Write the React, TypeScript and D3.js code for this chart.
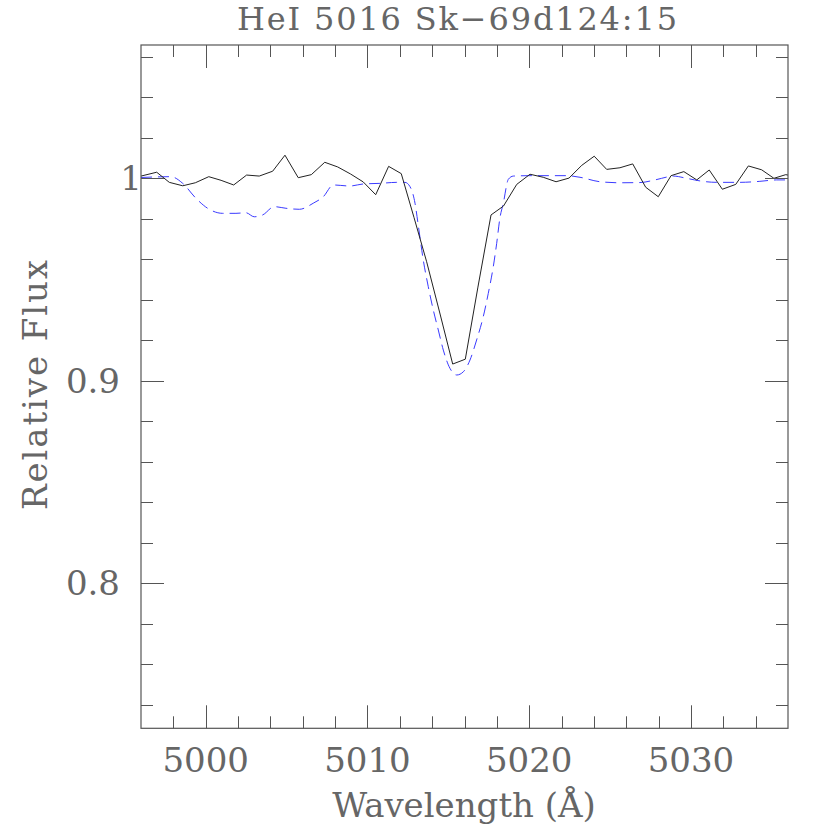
import React, { useEffect, useRef } from "react"
import * as d3 from "d3"

const W = 830
const H = 830
const PLOT = { left: 141, right: 788, top: 45, bottom: 728.3 }

const X_DOMAIN: [number, number] = [4996, 5036]
const Y_DOMAIN: [number, number] = [0.7284, 1.0657]

const X_MAJOR = [5000, 5010, 5020, 5030]
const Y_MAJOR = [0.8, 0.9, 1.0]
const Y_MAJOR_LABELS = ["0.8", "0.9", "1"]

// observed spectrum (black, solid)
const obsWave = [
  4995.2, 4996.0, 4996.97, 4997.75, 4998.58, 4999.36, 5000.19, 5000.95, 5001.73, 5002.53,
  5003.31, 5004.14, 5004.9, 5005.72, 5006.53, 5007.36, 5008.16, 5008.96, 5009.74, 5010.51,
  5011.31, 5012.09, 5012.88, 5013.66, 5014.49, 5015.27, 5016.05, 5016.83, 5017.64, 5018.41,
  5019.23, 5020.05, 5020.87, 5021.66, 5022.46, 5023.25, 5024.02, 5024.79, 5025.61, 5026.4,
  5027.2, 5027.98, 5028.77, 5029.56, 5030.36, 5031.13, 5031.94, 5032.77, 5033.55, 5034.37,
  5035.13, 5035.86, 5036.65,
]
const obsFlux = [
  0.9995, 1.001, 1.0029, 0.9979, 0.9962, 0.9977, 1.0007, 0.9989, 0.9966, 1.0015,
  1.001, 1.0034, 1.0113, 1.0002, 1.0017, 1.0078, 1.0055, 1.002, 0.9981, 0.9918,
  1.0058, 1.0022, 0.9805, 0.9587, 0.9329, 0.9082, 0.9106, 0.9462, 0.9818, 0.9862,
  0.9969, 1.0019, 1.0004, 0.9982, 1.0, 1.0063, 1.0108, 1.0043, 1.0051, 1.007,
  0.9955, 0.9908, 1.0012, 1.0032, 0.9991, 1.004, 0.9945, 0.9969, 1.006, 1.0041,
  0.9999, 1.0017, 1.0005,
]

// model fit (blue, dashed)
const modelWave = [
  4996.0, 4997.85, 4998.58, 4999.4, 5000.12, 5001.05, 5001.87, 5002.49, 5003.0, 5003.52,
  5004.24, 5004.96, 5005.79, 5006.65, 5007.27, 5007.89, 5008.92, 5009.74, 5010.77, 5011.81,
  5012.32, 5012.63, 5012.94, 5013.14, 5013.45, 5013.76, 5014.07, 5014.38, 5014.69, 5015.1,
  5015.52, 5015.93, 5016.34, 5016.75, 5017.16, 5017.47, 5017.78, 5017.99, 5018.19, 5018.4,
  5018.71, 5019.02, 5020.05, 5022.32, 5023.14, 5024.38, 5025.61, 5026.85, 5027.57, 5028.19,
  5028.91, 5029.73, 5030.56, 5031.59, 5033.03, 5034.26, 5035.3, 5035.86,
]
const modelFlux = [
  1.0003, 1.0007, 0.9974, 0.99, 0.9851, 0.9826, 0.9826, 0.9829, 0.9809, 0.9818,
  0.9859, 0.9851, 0.9846, 0.9876, 0.9908, 0.9966, 0.9961, 0.9971, 0.9974, 0.9979,
  0.9979, 0.9958, 0.9876, 0.9768, 0.9596, 0.9464, 0.9349, 0.925, 0.9151, 0.9061,
  0.9028, 0.9044, 0.9102, 0.9201, 0.9316, 0.9431, 0.9563, 0.9678, 0.9803, 0.9876,
  0.9994, 1.001, 1.0012, 1.0012, 1.0004, 0.9982, 0.9977, 0.9978, 0.9987, 0.9999,
  1.001, 0.9999, 0.9986, 0.9979, 0.9979, 0.9984, 0.9991, 0.9991,
]

const TITLE = "HeI 5016 Sk\u221269d124:15"
const X_LABEL = "Wavelength (\u00c5)"
const Y_LABEL = "Relative Flux"

const FONT = "'DejaVu Serif', serif"
const INK = "#555"
const TEXT_INK = "#666"

export default function App() {
  const svgRef = useRef<SVGSVGElement | null>(null)

  useEffect(() => {
    const svg = d3.select(svgRef.current)
    svg.selectAll("*").remove()

    const x = d3.scaleLinear().domain(X_DOMAIN).range([PLOT.left, PLOT.right])
    const y = d3.scaleLinear().domain(Y_DOMAIN).range([PLOT.bottom, PLOT.top])

    svg
      .append("defs")
      .append("clipPath")
      .attr("id", "plot-clip")
      .append("rect")
      .attr("x", PLOT.left)
      .attr("y", PLOT.top)
      .attr("width", PLOT.right - PLOT.left)
      .attr("height", PLOT.bottom - PLOT.top)

    const plot = svg.append("g").attr("clip-path", "url(#plot-clip)")

    const line = d3
      .line<[number, number]>()
      .x(d => x(d[0]))
      .y(d => y(d[1]))

    plot
      .append("path")
      .datum(d3.zip(modelWave, modelFlux) as [number, number][])
      .attr("d", line.curve(d3.curveMonotoneX))
      .attr("fill", "none")
      .attr("stroke", "#3a3aff")
      .attr("stroke-width", 1)
      .attr("stroke-dasharray", "11,6")

    plot
      .append("path")
      .datum(d3.zip(obsWave, obsFlux) as [number, number][])
      .attr("d", line.curve(d3.curveLinear))
      .attr("fill", "none")
      .attr("stroke", "#222")
      .attr("stroke-width", 1)

    // ticks on all four sides, pointing inward
    const ticks = svg.append("g").attr("stroke", INK).attr("stroke-width", 1)
    const xTicks = d3.range(4998, 5036, 2)
    xTicks.forEach(v => {
      const len = v % 10 === 0 ? 23 : 12
      const px = Math.round(x(v)) + 0.5
      ticks.append("line").attr("x1", px).attr("x2", px).attr("y1", PLOT.bottom).attr("y2", PLOT.bottom - len)
      ticks.append("line").attr("x1", px).attr("x2", px).attr("y1", PLOT.top).attr("y2", PLOT.top + len)
    })
    const yTicks = d3.range(37, 54).map(i => i * 0.02)
    yTicks.forEach(v => {
      const major = Y_MAJOR.some(m => Math.abs(m - v) < 1e-6)
      const len = major ? 23 : 12
      const py = Math.round(y(v)) + 0.5
      ticks.append("line").attr("x1", PLOT.left).attr("x2", PLOT.left + len).attr("y1", py).attr("y2", py)
      ticks.append("line").attr("x1", PLOT.right).attr("x2", PLOT.right - len).attr("y1", py).attr("y2", py)
    })

    svg
      .append("rect")
      .attr("x", PLOT.left)
      .attr("y", PLOT.top)
      .attr("width", PLOT.right - PLOT.left)
      .attr("height", PLOT.bottom - PLOT.top)
      .attr("fill", "none")
      .attr("stroke", INK)
      .attr("stroke-width", 1.2)

    const text = svg.append("g").attr("font-family", FONT).attr("fill", TEXT_INK).attr("font-size", 34)

    X_MAJOR.forEach(v => {
      text.append("text").attr("x", x(v)).attr("y", 772).attr("text-anchor", "middle").text(String(v))
    })
    Y_MAJOR.forEach((v, i) => {
      const lbl = Y_MAJOR_LABELS[i]
      text
        .append("text")
        .attr("x", lbl === "1" ? 142 : 120)
        .attr("y", y(v) + 12)
        .attr("text-anchor", "end")
        .text(lbl)
    })

    text
      .append("text")
      .attr("x", 457)
      .attr("y", 30)
      .attr("font-size", 32)
      .attr("text-anchor", "middle")
      .attr("textLength", 440)
      .attr("lengthAdjust", "spacing")
      .text(TITLE)
    text.append("text").attr("x", 464).attr("y", 817).attr("text-anchor", "middle").text(X_LABEL)
    text
      .append("text")
      .attr("transform", "translate(47,385) rotate(-90)")
      .attr("text-anchor", "middle")
      .attr("textLength", 250)
      .attr("lengthAdjust", "spacing")
      .text(Y_LABEL)
  }, [])

  return (
    <svg
      ref={svgRef}
      width={W}
      height={H}
      style={{ position: "absolute", left: 0, top: 0, background: "#fff" }}
    />
  )
}
